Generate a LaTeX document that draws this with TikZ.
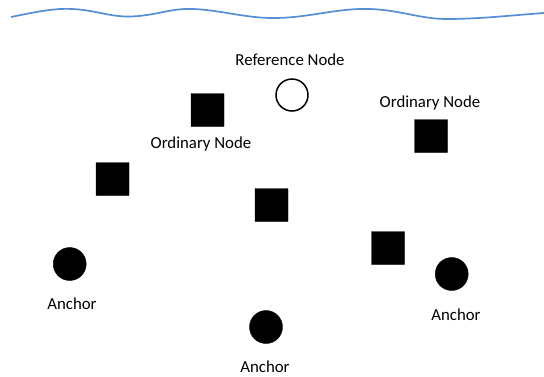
\documentclass[tikz,border=0pt]{standalone}
\usepackage{fontspec}
\setmainfont{Carlito}
\begin{document}
\begin{tikzpicture}[x=1pt,y=-1pt,
  sq/.style={fill=black,draw=black,minimum size=33pt,inner sep=0pt,rectangle,rounded corners=0.5pt},
  anc/.style={circle,fill=black,draw=black,minimum size=33pt,inner sep=0pt},
  refn/.style={circle,draw=black,line width=1.5pt,minimum size=32pt,inner sep=0pt,fill=white},
  lbl/.style={font=\fontsize{16.8}{18}\selectfont,inner sep=0pt}]
\useasboundingbox (0,0) rectangle (544,376);
% wave
\draw[color={rgb,255:red,85;green,142;blue,213},line width=1.7pt]
  (11,17) .. controls (35,12) and (55,8) .. (72,9)
  .. controls (95,10) and (110,17) .. (130,16.5)
  .. controls (155,16) and (170,8) .. (193,9)
  .. controls (220,10) and (245,18) .. (273,18)
  .. controls (310,18) and (335,8) .. (370,9)
  .. controls (400,10) and (420,19) .. (447,19)
  .. controls (480,19) and (515,15) .. (544,13);
% nodes
\node[refn] (ref) at (292,95) {};
\node[sq] (o1) at (207.5,110) {};
\node[sq] (o2) at (431,136) {};
\node[sq] (s1) at (112.5,179) {};
\node[sq] (s2) at (271.5,205) {};
\node[sq] (s3) at (388,248) {};
\node[anc] (a1) at (69.7,264) {};
\node[anc] (a2) at (451.7,274) {};
\node[anc] (a3) at (266,327) {};
% labels
\node[lbl] (lref) at (290,60) {Reference Node};
\node[lbl] (lo1) at (201,144) {Ordinary Node};
\node[lbl] (lo2) at (430,103) {Ordinary Node};
\node[lbl] (la1) at (72,304) {Anchor};
\node[lbl] (la2) at (456,315) {Anchor};
\node[lbl] (la3) at (265,367) {Anchor};
\end{tikzpicture}
\end{document}
